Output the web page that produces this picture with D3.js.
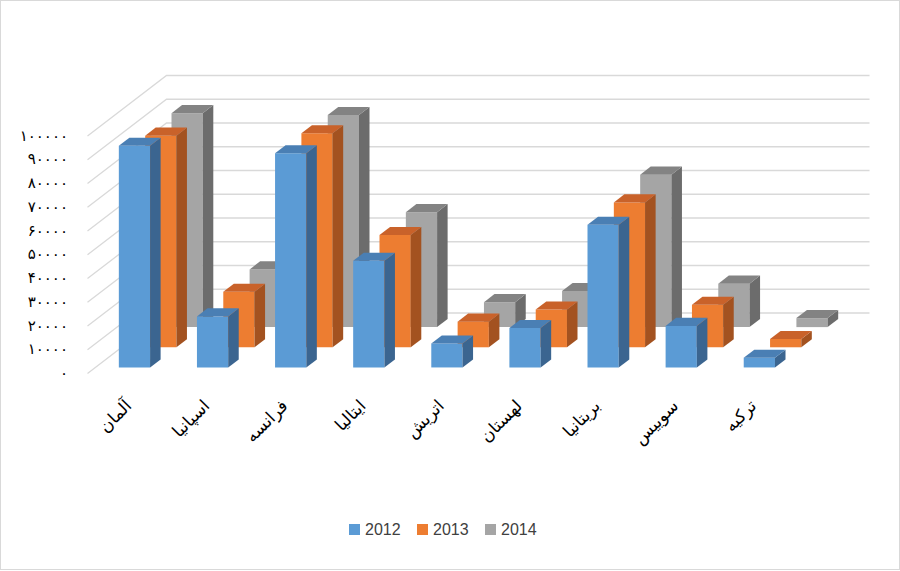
<!DOCTYPE html>
<html>
<head>
<meta charset="utf-8">
<script src="https://cdn.jsdelivr.net/npm/d3@7"></script>
<style>
  body { margin: 0; background: #fff; }
</style>
</head>
<body>
<div id="chart"></div>
<script>
// Données
const categories = ["آلمان", "اسپانیا", "فرانسه", "ایتالیا", "اتریش", "لهستان", "بریتانیا", "سوییس", "ترکیه"];
const years = ["2012", "2013", "2014"];
const values2012 = [93300, 21500, 90200, 44900, 10100, 16600, 60100, 17500, 4100];
const values2013 = [89100, 23400, 90100, 47300, 10800, 15900, 61000, 17900, 3500];
const values2014 = [90100, 24300, 89300, 48400, 10500, 15200, 64200, 18300, 3800];
const yTicks = [0, 10000, 20000, 30000, 40000, 50000, 60000, 70000, 80000, 90000, 100000];

const seriesValues = [values2012, values2013, values2014];

// Couleurs : face avant, dessus, côté
const colors = [
  { front: "#5b9bd5", top: "#4a7fb4", side: "#3b6590" },
  { front: "#ed7d31", top: "#c9622a", side: "#a35220" },
  { front: "#a5a5a5", top: "#838383", side: "#6c6c6c" }
];

let width = 900;
let height = 571;

// Origine du plan avant (coin bas gauche) et profondeur
let ox = 87.5;
let oy = 373.5;
let plotWidth = 703;
let depth = 60.5;      // décalage vertical entre avant et arrière
let slant = 1.306;     // décalage horizontal par unité de profondeur

let x = d3.scaleBand().domain(categories).range([0, plotWidth]).paddingInner(0.6).paddingOuter(0.3);
let z = d3.scaleBand().domain(years).range([0, depth]).paddingInner(0.6).paddingOuter(0.3);
let y = d3.scaleLinear().domain([0, 100000]).range([0, 237.5]);

// Projection oblique d'un point (x, valeur, profondeur)
function P(px, v, pz) {
  return [ox + px + pz * slant, oy - y(v) - pz];
}

function toPersian(n) {
  return String(n).replace(/\d/g, d => "۰۱۲۳۴۵۶۷۸۹"[d]);
}

let svg = d3
  .select("#chart")
  .append("svg")
  .attr("width", width)
  .attr("height", height);

// Bordure du graphique
svg
  .append("rect")
  .attr("x", 0.5)
  .attr("y", 0.5)
  .attr("width", width - 1)
  .attr("height", height - 2)
  .style("fill", "#fff")
  .style("stroke", "#d9d9d9");

// Lignes de grille : paroi gauche (diagonales) et paroi arrière
let grid = svg.append("g").style("stroke", "#d9d9d9").style("stroke-width", 1.3).style("fill", "none");
yTicks.forEach(t => {
  let a = P(0, t, 0);
  let b = P(0, t, depth);
  let c = P(plotWidth, t, depth);
  grid.append("polyline").attr("points", [a, b, c].map(p => p.join(",")).join(" "));
});

// Étiquettes de l'axe vertical
svg
  .append("g")
  .style("font-family", "DejaVu Sans")
  .style("font-size", "15px")
  .style("fill", "#000")
  .selectAll("text")
  .data(yTicks)
  .join("text")
  .attr("x", 68)
  .attr("y", d => P(0, d, 0)[1])
  .attr("text-anchor", "end")
  .attr("dominant-baseline", "middle")
  .text(d => toPersian(d));

// Barres : de l'arrière vers l'avant
let bw = x.bandwidth();
let bd = z.bandwidth();
for (let s = years.length - 1; s >= 0; s--) {
  let g = svg.append("g");
  let z0 = z(years[s]);
  categories.forEach((cat, i) => {
    let v = seriesValues[s][i];
    let x0 = x(cat);
    let poly = pts => pts.map(p => p.join(",")).join(" ");

    // face avant
    g.append("polygon")
      .attr("points", poly([P(x0, 0, z0), P(x0, v, z0), P(x0 + bw, v, z0), P(x0 + bw, 0, z0)]))
      .style("fill", colors[s].front);

    // côté droit
    g.append("polygon")
      .attr("points", poly([P(x0 + bw, 0, z0), P(x0 + bw, v, z0), P(x0 + bw, v, z0 + bd), P(x0 + bw, 0, z0 + bd)]))
      .style("fill", colors[s].side);

    // dessus
    g.append("polygon")
      .attr("points", poly([P(x0, v, z0), P(x0 + bw, v, z0), P(x0 + bw, v, z0 + bd), P(x0, v, z0 + bd)]))
      .style("fill", colors[s].top);
  });
}

// Étiquettes des catégories (pivotées)
svg
  .append("g")
  .style("font-family", "DejaVu Sans")
  .style("font-size", "17px")
  .style("fill", "#000")
  .selectAll("text")
  .data(categories)
  .join("text")
  .attr("text-anchor", "end")
  .attr("transform", d => {
    let px = P(x(d) + bw / 2, 0, 0)[0] + 6;
    return "translate(" + px + ",407) rotate(-45)";
  })
  .text(d => d);

// Légende
let legend = svg
  .append("g")
  .style("font-family", "Liberation Sans")
  .style("font-size", "16px")
  .style("fill", "#404040");

years.forEach((yr, i) => {
  let lx = 349 + i * 68;
  legend.append("rect")
    .attr("x", lx)
    .attr("y", 524)
    .attr("width", 11)
    .attr("height", 11)
    .style("fill", colors[i].front);
  legend.append("text")
    .attr("x", lx + 16)
    .attr("y", 535)
    .text(yr);
});
</script>
</body>
</html>
